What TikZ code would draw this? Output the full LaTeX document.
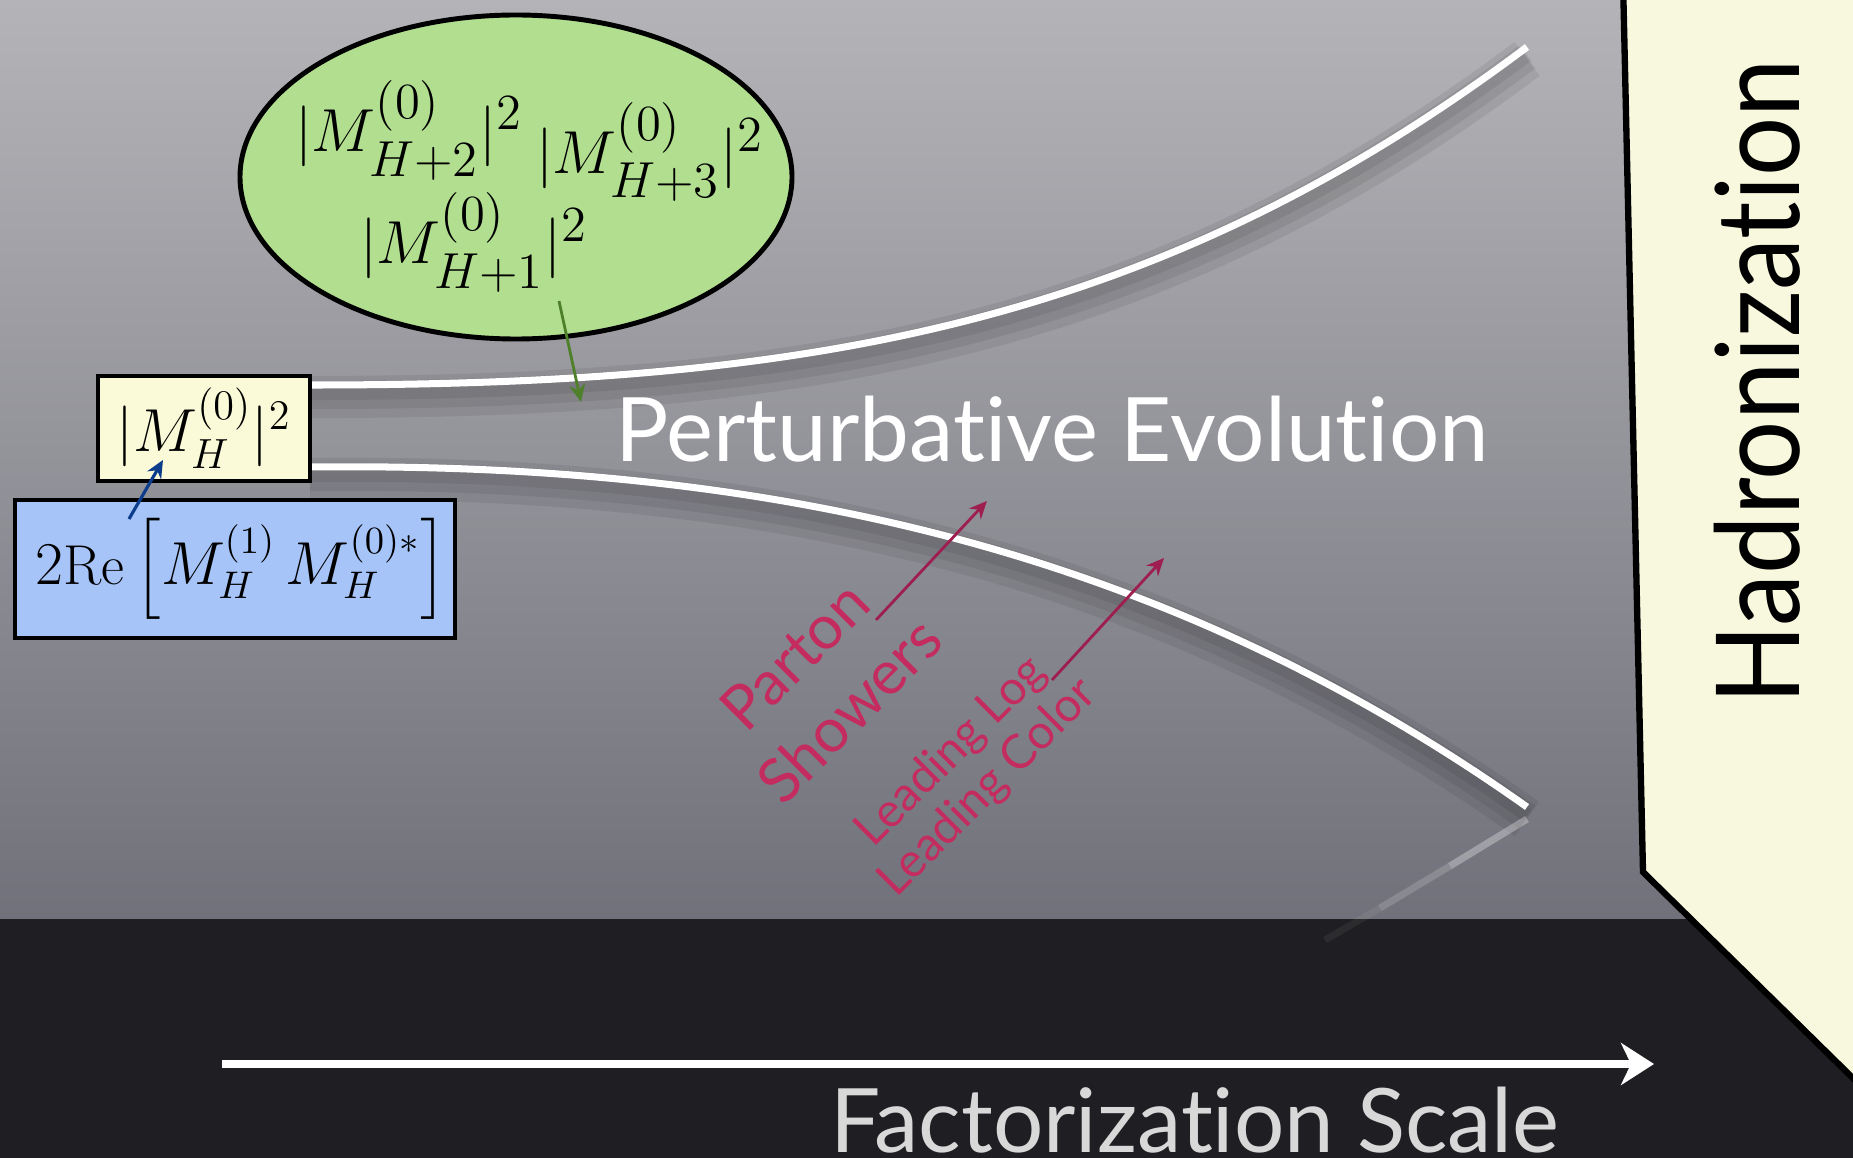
\documentclass[tikz,border=0pt]{standalone}
\usepackage{amsmath,amssymb}
\usepackage{xcolor}
\usepackage{graphicx}
\usepackage{fontspec}
\newfontfamily\gillfont[Ligatures={NoCommon,NoRequired,NoContextual}]{Lato}
\usepackage{tikz}
\usetikzlibrary{shapes.geometric, arrows.meta, positioning, calc}

\definecolor{bgtop}{RGB}{180,180,184}
\definecolor{bgbot}{RGB}{113,113,123}
\definecolor{bandcol}{RGB}{31,31,35}
\definecolor{hadfill}{RGB}{248,248,222}
\definecolor{bornfill}{RGB}{250,250,216}
\definecolor{virtfill}{RGB}{166,196,248}
\definecolor{realfill}{RGB}{178,222,144}
\definecolor{showertext}{RGB}{196,44,96}
\definecolor{showerarrow}{RGB}{158,30,80}
\definecolor{realarrow}{RGB}{78,128,42}
\definecolor{virtarrow}{RGB}{12,60,140}
\definecolor{scaletext}{RGB}{216,216,216}

\tikzset{
  bornbox/.style  = {rectangle, draw, fill=bornfill, line width=1.3pt, inner sep=0pt,
                     minimum width=2.12cm, minimum height=1.05cm, font=\fontsize{16.5}{20}\selectfont},
  virtbox/.style  = {rectangle, draw, fill=virtfill, line width=1.3pt, inner sep=0pt,
                     minimum width=4.40cm, minimum height=1.38cm, font=\fontsize{16}{20}\selectfont},
  realblob/.style = {ellipse, draw, fill=realfill, line width=1.4pt, inner sep=0pt,
                     minimum width=5.52cm, minimum height=3.24cm},
  mathtxt/.style  = {inner sep=0pt, font=\fontsize{19}{23}\selectfont},
  hadron/.style   = {draw=black, fill=hadfill, line width=1.8pt, line join=miter},
  hadlabel/.style = {rotate=90, inner sep=0pt, font=\gillfont\fontsize{33}{40}\selectfont},
  evolabel/.style = {text=white, inner sep=0pt, font=\gillfont\fontsize{25.3}{30}\selectfont},
  showerlabel/.style = {text=showertext, rotate=45, align=center, inner sep=0pt,
                        font=\gillfont\fontsize{17.5}{22}\selectfont},
  approxlabel/.style = {text=showertext, rotate=45, align=center, inner sep=0pt,
                        font=\gillfont\fontsize{13.5}{14.6}\selectfont},
  scalelabel/.style  = {text=scaletext, inner sep=0pt, font=\gillfont\fontsize{25.3}{30}\selectfont},
  tube/.style       = {white, line width=2pt},
  tubeshadow/.style = {black, opacity=0.07},
  reflect/.style    = {white, line width=2pt},
  arrowS/.style = {showerarrow, line width=0.8pt, -{Stealth[length=5pt, width=4.5pt]}},
  arrowR/.style = {realarrow,   line width=0.8pt, -{Stealth[length=5pt, width=4.5pt]}},
  arrowV/.style = {virtarrow,   line width=0.9pt, -{Stealth[length=5pt, width=4.5pt]}},
  scalearrow/.style = {white, line width=2pt, -{Stealth[length=0.33cm, width=0.42cm, inset=0.1cm]}},
}

\begin{document}
\begin{tikzpicture}

    %% ===================== BACKGROUND =====================
    \useasboundingbox (0,0) rectangle (18.53,-11.58);
    \shade[top color=bgtop, bottom color=bgbot] (0,0) rectangle (18.53,-9.19);
    \fill[bandcol] (0,-9.19) rectangle (18.53,-11.58);

    %% ===================== HADRONIZATION =====================
    \draw[hadron] (16.23,0.2) -- (16.43,-8.72) -- (18.65,-10.90) -- (18.65,0.2) -- cycle;
    \node[hadlabel] (hadr) at (17.57,-3.82) {\scalebox{0.9}[1]{Hadronization}};

    %% ===================== EVOLUTION TUBE =====================
    % soft shadow under both branches
    \foreach \w/\d in {12pt/0.12, 8pt/0.10, 4pt/0.08}{
      \draw[tubeshadow, line width=\w] (3.10,-3.85-\d) .. controls (8.00,-3.85-\d) and (11.50,-3.30-\d) .. (15.27,-0.47-\d);
      \draw[tubeshadow, line width=\w] (3.10,-4.67-\d) .. controls (7.50,-4.62-\d) and (11.50,-5.40-\d) .. (15.27,-8.07-\d);
    }
    \draw[tube] (3.10,-3.85) .. controls (8.00,-3.85) and (11.50,-3.30) .. (15.27,-0.47);
    \draw[tube] (3.10,-4.67) .. controls (7.50,-4.62) and (11.50,-5.40) .. (15.27,-8.07);

    % faint reflection of the lower branch
    \draw[reflect, opacity=0.30] (15.27,-8.19) -- (14.50,-8.66);
    \draw[reflect, opacity=0.16] (14.50,-8.66) -- (13.80,-9.08);
    \draw[reflect, opacity=0.06] (13.80,-9.08) -- (13.25,-9.40);

    %% ===================== MATRIX ELEMENTS =====================
    \node[realblob] (real) at (5.16,-1.77) {};
    \node[mathtxt] (mtwo)   at (4.09,-1.30) {$|M^{(0)}_{H+2}|^2$};
    \node[mathtxt] (mthree) at (6.50,-1.52) {$|M^{(0)}_{H+3}|^2$};
    \node[mathtxt] (mone)   at (4.74,-2.42) {$|M^{(0)}_{H+1}|^2$};

    \node[bornbox] (born) at (2.04,-4.285) {$|M^{(0)}_H|^2$};
    \node[virtbox] (virt) at (2.35,-5.69)
         {\hspace{0.12cm}$2\mathrm{Re}\left[M^{(1)}_H\,M^{(0)*}_H\right]$};

    \coordinate (realtail) at (5.59,-3.01);
    \coordinate (realtip)  at (5.81,-4.02);
    \draw[arrowR] (realtail) -- (realtip);

    \coordinate (virttail) at (1.29,-5.19);
    \coordinate (borntip)  at (1.63,-4.60);
    \draw[arrowV] (virttail) -- (borntip);

    %% ===================== LABELS =====================
    \node[evolabel, anchor=base] (pert) at (10.52,-4.62) {Perturbative Evolution};

    \node[showerlabel] (ps)  at (8.22,-6.83) {Parton\\Showers};
    \node[approxlabel] (llc) at (9.70,-7.70) {Leading Log\\Leading Color};

    \coordinate (pstail) at (8.76,-6.20);
    \coordinate (pstip)  at (9.87,-5.01);
    \coordinate (lltail) at (10.52,-6.80);
    \coordinate (lltip)  at (11.64,-5.58);
    \draw[arrowS] (pstail) -- (pstip);
    \draw[arrowS] (lltail) -- (lltip);

    %% ===================== SCALE AXIS =====================
    \coordinate (axisL) at (2.22,-10.64);
    \coordinate (axisR) at (16.54,-10.64);
    \draw[scalearrow] (axisL) -- (axisR);
    \node[scalelabel, anchor=base] (fscale) at (11.95,-11.52) {Factorization Scale};

\end{tikzpicture}
\end{document}
